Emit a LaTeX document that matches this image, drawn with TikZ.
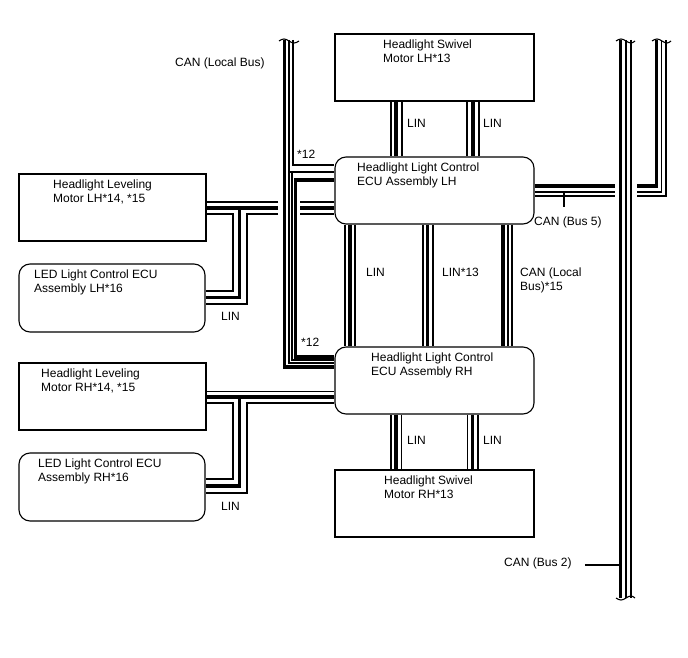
\documentclass[tikz,border=0pt]{standalone}
\usepackage{fontspec}
\setmainfont{Liberation Sans}
\tikzset{
  unit/.style={draw, line width=1.1pt, inner sep=0pt},
  ecu/.style={unit, rounded corners=11pt},
  txt/.style={inner sep=0pt, align=left, font=\fontsize{12}{14}\selectfont},
  wthin/.style={line width=1.1pt},
  wthick/.style={line width=3.2pt},
}
\begin{document}
\begin{tikzpicture}[x=1pt,y=-1pt]
        \useasboundingbox (0,0) rectangle (688,658);

        \node[unit, minimum width=199pt, minimum height=67pt] (swivL) at (434.5,67.5) {};
        \node[ecu, minimum width=199pt, minimum height=67pt] (ecuL) at (434.5,190.5) {};
        \node[ecu, minimum width=199pt, minimum height=67pt] (ecuR) at (434.5,380.5) {};
        \node[unit, minimum width=199pt, minimum height=67pt] (swivR) at (434.5,503.5) {};
        \node[unit, minimum width=187pt, minimum height=67pt] (levL) at (112.5,207.5) {};
        \node[ecu, minimum width=186pt, minimum height=68pt] (ledL) at (112,298) {};
        \node[unit, minimum width=187pt, minimum height=67pt] (levR) at (112.5,396.5) {};
        \node[ecu, minimum width=186pt, minimum height=68pt] (ledR) at (112,487) {};

        \node[txt, anchor=north west] (swivLtxt) at (383,39.6) {Headlight Swivel\\Motor LH*13};
        \node[txt, anchor=north west] (ecuLtxt) at (357,162.6) {Headlight Light Control\\ECU Assembly LH};
        \node[txt, anchor=north west] (ecuRtxt) at (371,352.6) {Headlight Light Control\\ECU Assembly RH};
        \node[txt, anchor=north west] (swivRtxt) at (384,475.6) {Headlight Swivel\\Motor RH*13};
        \node[txt, anchor=north west] (levLtxt) at (53,179.6) {Headlight Leveling\\Motor LH*14, *15};
        \node[txt, anchor=north west] (ledLtxt) at (34,269.6) {LED Light Control ECU\\Assembly LH*16};
        \node[txt, anchor=north west] (levRtxt) at (41,368.6) {Headlight Leveling\\Motor RH*14, *15};
        \node[txt, anchor=north west] (ledRtxt) at (38,458.6) {LED Light Control ECU\\Assembly RH*16};

        \node[txt, anchor=west] (canlocal) at (175,63) {CAN (Local Bus)};
        \node[txt, anchor=west] (linSL1) at (407,123) {LIN};
        \node[txt, anchor=west] (linSL2) at (483,123) {LIN};
        \node[txt, anchor=west] (linE1) at (366,272) {LIN};
        \node[txt, anchor=west] (linE2) at (442,272) {LIN*13};
        \node[txt, anchor=north west] (canE3) at (520,267.6) {CAN (Local\\Bus)*15};
        \node[txt, anchor=west] (linSR1) at (407,440) {LIN};
        \node[txt, anchor=west] (linSR2) at (483,440) {LIN};
        \node[txt, anchor=west] (linLL) at (221,316) {LIN};
        \node[txt, anchor=west] (linLR) at (221,506) {LIN};
        \node[txt, anchor=west] (st12a) at (297,154) {*12};
        \node[txt, anchor=west] (st12b) at (301,342) {*12};
        \node[txt, anchor=west] (canbus5) at (534,222) {CAN (Bus 5)};
        \node[txt, anchor=west] (canbus2) at (504,563) {CAN (Bus 2)};

        \foreach \x/\w in {391/wthin,396/wthick,402/wthin,467/wthin,473/wthick,479/wthin}
            \draw[\w] (\x,0 |- swivL.south) -- (\x,0 |- ecuL.north);
        \foreach \x/\w in {391/wthin,396/wthick,401.5/wthin,467.5/wthin,472.5/wthick,478/wthin}
            \draw[\w] (\x,0 |- ecuR.south) -- (\x,0 |- swivR.north);
        \foreach \x/\w in {345/wthin,350/wthick,355/wthin,423/wthin,427.5/wthick,433/wthin,503/wthick,508/wthin,512/wthin}
            \draw[\w] (\x,0 |- ecuL.south) -- (\x,0 |- ecuR.north);

        \foreach \y/\w in {202/wthin,208/wthick} {
            \draw[\w] (ecuL.west |- 0,\y) -- (300,\y);
            \draw[\w] (278,\y) -- (levL.east |- 0,\y);
        }
        \draw[wthin] (ecuL.west |- 0,214) -- (300,214);
        \draw[wthin] (278,214) -- (247,214) |- (ledL.east |- 0,304);
        \draw[wthin] (levL.east |- 0,214) -- (233,214) |- (ledL.east |- 0,291);
        \draw[wthick] (239.5,208) |- (ledL.east |- 0,297.5);

        \draw[wthin] (levR.east |- 0,391.5) -- (ecuR.west |- 0,391.5);
        \draw[wthick] (levR.east |- 0,397) -- (ecuR.west |- 0,397);
        \draw[wthin] (ecuR.west |- 0,403) -- (247,403) |- (ledR.east |- 0,493);
        \draw[wthin] (levR.east |- 0,403) -- (233,403) |- (ledR.east |- 0,479);
        \draw[wthick] (239.5,397) |- (ledR.east |- 0,486);

        \draw[wthick] (284.5,40) |- (ecuR.west |- 0,367);
        \draw[wthin] (289,40) |- (ecuR.west |- 0,363);
        \draw[wthin] (293,40) |- (ecuL.west |- 0,165);
        \draw[wthin] (289,172) -- (ecuL.west |- 0,172);
        \draw[wthin] (292,172) |- (ecuR.west |- 0,360);
        \draw[wthick] (ecuL.west |- 0,180) -- (295.5,180) |- (ecuR.west |- 0,357);

        \foreach \y/\x/\w in {186/656.5/wthick,192/661.5/wthin,196/666/wthin} {
            \draw[\w] (ecuL.east |- 0,\y) -- (615,\y);
            \draw[\w] (637,\y) -| (\x,40);
        }
        \foreach \x/\w in {620.5/wthick,626/wthin,631/wthin}
            \draw[\w] (\x,40) -- (\x,598);

        \draw[wthin] (279,41) sin (284,39) cos (289,41) sin (294,43) cos (299,41);
        \draw[wthin] (652,41) sin (657,39) cos (662,41) sin (667,43) cos (671,41);
        \draw[wthin] (616,41) sin (621,39) cos (626,41) sin (631,43) cos (635,41);
        \draw[wthin] (616,598) sin (621,600) cos (626,598) sin (631,596) cos (635,598);

        \draw[wthin] (564,192) -- (564,207);
        \draw[wthin] (canbus2.east) ++(13,2) coordinate (b2tip) -- (619,565);
\end{tikzpicture}
\end{document}
